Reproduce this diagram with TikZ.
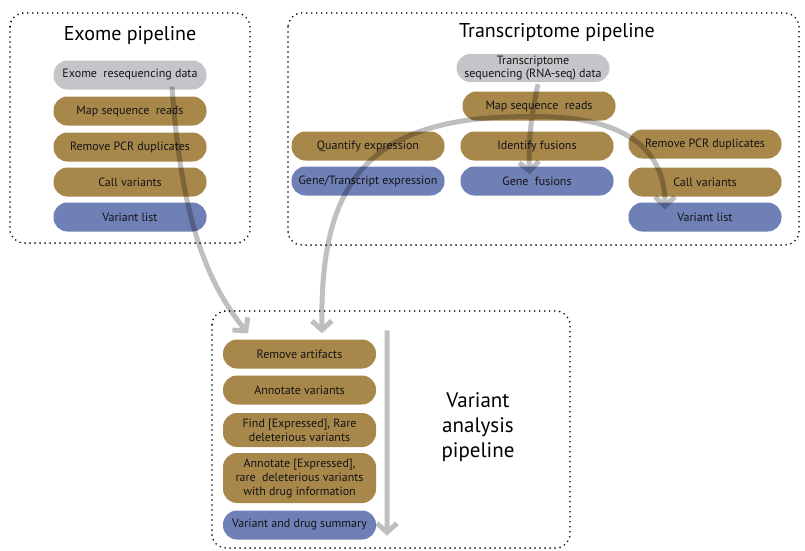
\documentclass[tikz,border=0pt]{standalone}
\usepackage{fontspec}
\setmainfont{PT Sans}
\usetikzlibrary{arrows.meta}
\definecolor{pbrown}{HTML}{A8874B}
\definecolor{pblue}{HTML}{6F80B6}
\definecolor{pgray}{HTML}{C5C5C9}
\definecolor{ptext}{HTML}{141414}
\begin{document}
\begin{tikzpicture}[x=1pt,y=-1pt,
  pill/.style={rectangle, rounded corners=14pt, minimum width=153pt, minimum height=29pt,
    inner sep=2pt, text=ptext, font=\fontsize{12}{14}\selectfont, align=center},
  brownpill/.style={pill, fill=pbrown},
  bluepill/.style={pill, fill=pblue},
  graypill/.style={pill, fill=pgray},
  frame/.style={draw=black, line width=1.8pt, dash pattern=on 0pt off 5pt, line cap=round, rounded corners=14pt},
  title/.style={font=\fontsize{20}{25}\selectfont, text=black, align=center},
  flow/.style={draw=black, line width=5pt, line cap=butt, -{Straight Barb[length=9pt,width=20pt]}},
]
\useasboundingbox (0,0) rectangle (805,550);
% frames
\draw[frame] (10,13) rectangle (250,243);
\draw[frame] (288,13) rectangle (799,245);
\draw[frame] (212,311) rectangle (570,548);
% titles
\node[title] (tex) at (130,35) {Exome pipeline};
\node[title] (ttr) at (557,32) {Transcriptome pipeline};
\node[title, font=\fontsize{21}{25}\selectfont] (tva) at (478,427) {Variant\\analysis\\pipeline};
% exome
\node[graypill] (exdata) at (130,75) {Exome\ \ resequencing data};
\node[brownpill] (exmap) at (130,111) {Map sequence\ \ reads};
\node[brownpill] (exrm) at (130,147) {Remove PCR duplicates};
\node[brownpill] (excall) at (130,182) {Call variants};
\node[bluepill] (exvl) at (130,217) {Variant list};
% transcriptome
\node[graypill, minimum height=27pt, font=\fontsize{12}{13}\selectfont] (tdata) at (533,68) {Transcriptome\\sequencing (RNA-seq) data};
\node[brownpill] (tmap) at (539,106) {Map sequence\ \ reads};
\node[brownpill] (tquant) at (368,146) {Quantify expression};
\node[bluepill] (tgexp) at (368,181) {Gene/Transcript expression};
\node[brownpill] (tfus) at (537,146) {Identify fusions};
\node[bluepill] (tgfus) at (537,181) {Gene\ \ fusions};
\node[brownpill] (trm) at (705,144) {Remove PCR duplicates};
\node[brownpill] (tcall) at (705,182) {Call variants};
\node[bluepill] (tvl) at (705,217) {Variant list};
% variant analysis
\node[brownpill] (vart) at (299.5,354) {Remove artifacts};
\node[brownpill] (vann) at (299.5,390) {Annotate variants};
\node[brownpill, minimum height=34pt] (vfind) at (299.5,430) {Find [Expressed], Rare\\deleterious variants};
\node[brownpill, minimum height=50pt] (vdrug) at (299.5,478) {Annotate [Expressed],\\rare\ \ deleterious variants\\with drug information};
\node[bluepill] (vsum) at (299.5,525) {Variant and drug summary};
% connectors
\coordinate (vtop) at ([xshift=87.5pt,yshift=9pt]vart.north);
\coordinate (vbot) at ([xshift=87.5pt,yshift=4pt]vsum.south);
\begin{scope}[transparency group, opacity=0.25]
\draw[flow] ([xshift=42pt,yshift=3pt]exdata.south) .. controls (180,200) and (200,275) .. ([xshift=-51.5pt,yshift=6pt]vart.north);
\draw[flow] ([xshift=5pt,yshift=-2pt]tdata.south) .. controls (530,120) and (528,150) .. ([xshift=-7pt,yshift=-8pt]tgfus.north);
\draw[flow] ([xshift=-9pt,yshift=4pt]tmap.south) .. controls (360,115) and (320,190) .. ([xshift=22.5pt,yshift=6pt]vart.north);
\draw[flow] ([xshift=-9pt,yshift=4pt]tmap.south) .. controls (610,115) and (665,140) .. ([xshift=-40pt,yshift=-7pt]tvl.north);
\draw[flow] (vtop) -- (vbot);
\end{scope}
\end{tikzpicture}
\end{document}
